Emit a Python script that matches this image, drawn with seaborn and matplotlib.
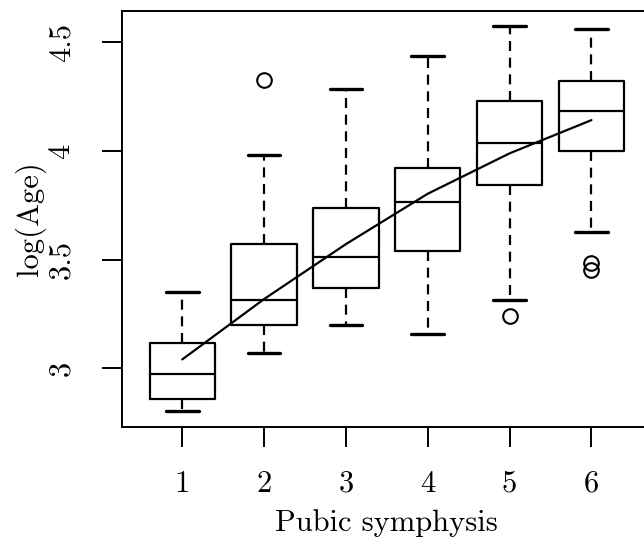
"""Boxplots of log(Age) by pubic symphysis phase, with a fitted curve."""
import matplotlib
matplotlib.use('Agg')
import matplotlib.pyplot as plt
import seaborn as sns

# values
phases = [1, 2, 3, 4, 5, 6]
whisker_low = [2.802, 3.068, 3.197, 3.155, 3.315, 3.625]
q1 = [2.860, 3.198, 3.367, 3.540, 3.843, 4.000]
median = [2.971, 3.315, 3.511, 3.763, 4.035, 4.185]
q3 = [3.114, 3.571, 3.739, 3.923, 4.230, 4.321]
whisker_high = [3.350, 3.980, 4.285, 4.438, 4.574, 4.561]
outliers = [[], [4.327], [], [], [3.238], [3.482, 3.451]]

# fitted curve evaluated at each phase
fit_x = [1, 2, 3, 4, 5, 6]
fit_y = [3.040, 3.318, 3.571, 3.803, 3.989, 4.142]

y_ticks = [3, 3.5, 4, 4.5]
y_tick_labels = ['3', '3.5', '4', '4.5']

sns.set_theme(style='white')
plt.rcParams['font.family'] = ['cmr10', 'DejaVu Serif']
plt.rcParams['axes.formatter.use_mathtext'] = True

fig = plt.figure(figsize=(6.44, 5.45), dpi=100)
ax = fig.add_axes([0.189, 0.217, 0.8234, 0.763])

stats = []
for i in range(len(phases)):
    stats.append({
        'med': median[i], 'q1': q1[i], 'q3': q3[i],
        'whislo': whisker_low[i], 'whishi': whisker_high[i],
        'fliers': outliers[i],
    })

ax.bxp(stats, positions=phases, widths=0.8, capwidths=0.4,
       boxprops=dict(color='black', linewidth=1.6),
       medianprops=dict(color='black', linewidth=1.6),
       whiskerprops=dict(color='black', linewidth=1.6, linestyle=(0, (4.5, 3.0))),
       capprops=dict(color='black', linewidth=2.4),
       flierprops=dict(marker='o', markerfacecolor='none', markeredgecolor='black',
                       markersize=10.5, markeredgewidth=1.5))

sns.lineplot(x=fit_x, y=fit_y, ax=ax, color='black', linewidth=1.6)

ax.set_xlim(0.26, 6.74)
ax.set_ylim(2.730, 4.645)
ax.set_xticks(phases, [str(p) for p in phases])
ax.set_yticks(y_ticks, y_tick_labels)
for lab in ax.get_yticklabels():
    lab.set_rotation(90)
    lab.set_va('center')

ax.tick_params(axis='both', direction='out', length=14.5, width=1.4,
               color='black', labelsize=22, labelcolor='black', left=True, bottom=True)
ax.tick_params(axis='x', pad=17)
ax.tick_params(axis='y', pad=19)

for s in ax.spines.values():
    s.set_color('black')
    s.set_linewidth(1.4)

ax.set_xlabel('Pubic symphysis', fontsize=22, color='black', va='center')
ax.set_ylabel('log(Age)', fontsize=22, color='black', va='center')
ax.xaxis.set_label_coords(0.5, -0.232)
ax.yaxis.set_label_coords(-0.173, 0.5)

fig.savefig('out.png', dpi=100)
plt.close(fig)
print('Wrote out.png')
